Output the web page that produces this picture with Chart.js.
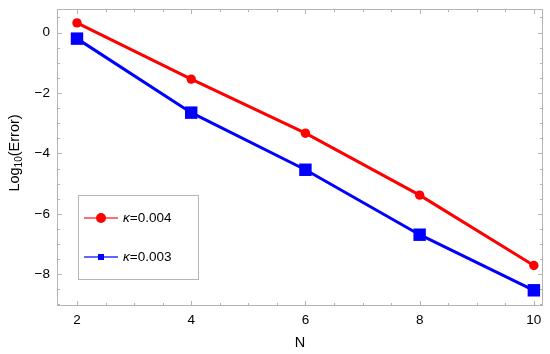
<!DOCTYPE html>
<html>
<head>
<meta charset="utf-8">
<script src="https://cdn.jsdelivr.net/npm/chart.js@4"></script>
<style>
    html, body { margin: 0; background: #fff; }
    #wrap { width: 550px; height: 354px; }
</style>
</head>
<body>
<div id="wrap"><canvas id="myChart"></canvas></div>
<script>
// dados
const nValues = [2, 4, 6, 8, 10];
const errK004 = [0.32, -1.54, -3.33, -5.38, -7.71];
const errK003 = [-0.2, -2.65, -4.54, -6.69, -8.53];
const xTicks = [2, 4, 6, 8, 10];
const yTicks = [0, -2, -4, -6, -8];
const kappaValues = ["0.004", "0.003"];

const FONT = "'Liberation Sans', Arial, sans-serif";
const frameColor = "#b4b4b4";

function pontos(ys) {
    return nValues.map((n, i) => ({ x: n, y: ys[i] }));
}

// moldura com marcas para dentro nos quatro lados (estilo Mathematica)
const framePlugin = {
    id: "frame",
    beforeDatasetsDraw(chart) {
        const { ctx, chartArea: a, scales } = chart;
        const xs = scales.x, ys = scales.y;
        ctx.save();
        ctx.strokeStyle = frameColor;
        ctx.lineWidth = 1;
        ctx.strokeRect(a.left + 0.5, a.top + 0.5, a.right - a.left - 1, a.bottom - a.top - 1);
        ctx.beginPath();
        for (let v = 1.5; v <= 10.2; v += 0.5) {
            if (v < xs.min || v > xs.max) continue;
            const px = Math.round(xs.getPixelForValue(v)) + 0.5;
            const len = Number.isInteger(v / 2) ? 5 : 3;
            ctx.moveTo(px, a.bottom); ctx.lineTo(px, a.bottom - len);
            ctx.moveTo(px, a.top); ctx.lineTo(px, a.top + len);
        }
        for (let v = -9; v <= 0.8; v += 0.5) {
            if (v < ys.min || v > ys.max) continue;
            const py = Math.round(ys.getPixelForValue(v)) + 0.5;
            const len = Number.isInteger(v / 2) ? 5 : 3;
            ctx.moveTo(a.left, py); ctx.lineTo(a.left + len, py);
            ctx.moveTo(a.right, py); ctx.lineTo(a.right - len, py);
        }
        ctx.stroke();
        ctx.restore();
    },
    afterDraw(chart) {
        const { ctx, chartArea: a } = chart;
        ctx.save();
        ctx.fillStyle = "#000";
        // título do eixo Y com subscrito
        ctx.translate(15, 153);
        ctx.rotate(-Math.PI / 2);
        ctx.textBaseline = "middle";
        ctx.textAlign = "left";
        const big = "14.5px " + FONT, small = "10px " + FONT;
        ctx.font = big; const w1 = ctx.measureText("Log").width;
        ctx.font = small; const w2 = ctx.measureText("10").width;
        ctx.font = big; const w3 = ctx.measureText("(Error)").width;
        let x0 = -(w1 + w2 + w3) / 2;
        ctx.fillText("Log", x0, 0);
        ctx.font = small; ctx.fillText("10", x0 + w1, 4);
        ctx.font = big; ctx.fillText("(Error)", x0 + w1 + w2, 0);
        ctx.restore();

        // título do eixo X
        ctx.save();
        ctx.font = "14.5px " + FONT;
        ctx.fillStyle = "#000";
        ctx.textAlign = "center";
        ctx.textBaseline = "middle";
        ctx.fillText("N", (a.left + a.right) / 2, 343);
        ctx.restore();

        // legenda
        ctx.save();
        const lx = 78, ly = 195, lw = 120, lh = 84;
        ctx.fillStyle = "#fff";
        ctx.fillRect(lx, ly, lw, lh);
        ctx.strokeStyle = frameColor;
        ctx.lineWidth = 1;
        ctx.strokeRect(lx + 0.5, ly + 0.5, lw, lh);
        const itens = [
            { cor: "#ff0000", linha: "rgba(255,60,60,0.75)", y: ly + 23, tipo: "circle" },
            { cor: "#0000ff", linha: "rgba(60,60,255,0.8)", y: ly + 62, tipo: "rect" },
        ];
        itens.forEach((it, i) => {
            ctx.strokeStyle = it.linha;
            ctx.lineWidth = 2;
            ctx.beginPath();
            ctx.moveTo(lx + 6, it.y); ctx.lineTo(lx + 40, it.y);
            ctx.stroke();
            ctx.fillStyle = it.cor;
            if (it.tipo === "circle") {
                ctx.beginPath(); ctx.arc(lx + 23, it.y, 5, 0, Math.PI * 2); ctx.fill();
            } else {
                ctx.fillRect(lx + 20, it.y - 3, 6, 6);
            }
            ctx.fillStyle = "#000";
            ctx.textBaseline = "middle";
            ctx.textAlign = "left";
            ctx.font = "italic 13.5px " + FONT;
            ctx.fillText("κ", lx + 45, it.y);
            const kw = ctx.measureText("κ").width;
            ctx.font = "13.5px " + FONT;
            ctx.fillText("=" + kappaValues[i], lx + 45 + kw, it.y);
        });
        ctx.restore();
    },
};

const ctx = document.querySelector("#myChart");
new Chart(ctx, {
    type: "scatter",
    data: {
        datasets: [
            {
                label: "κ=" + kappaValues[0],
                data: pontos(errK004),
                showLine: true,
                borderColor: "#ff0000",
                backgroundColor: "#ff0000",
                borderWidth: 3,
                pointStyle: "circle",
                pointRadius: 4.7,
                pointHoverRadius: 4.7,
                pointBorderWidth: 0,
            },
            {
                label: "κ=" + kappaValues[1],
                data: pontos(errK003),
                showLine: true,
                borderColor: "#0000ff",
                backgroundColor: "#0000ff",
                borderWidth: 3,
                pointStyle: "rect",
                pointRadius: 8.8,
                pointHoverRadius: 8.8,
                pointBorderWidth: 0,
            },
        ],
    },
    options: {
        responsive: true,
        maintainAspectRatio: false,
        animation: false,
        clip: false,
        layout: { autoPadding: false, padding: { left: 0, top: 5, right: 7, bottom: 0 } },
        scales: {
            x: {
                type: "linear",
                min: 1.65,
                max: 10.16,
                afterBuildTicks: (s) => { s.ticks = xTicks.map((v) => ({ value: v })); },
                afterFit: (s) => { s.height = 48; },
                grid: { display: false, drawTicks: false },
                border: { display: false },
                ticks: { color: "#000", padding: 6, font: { family: FONT, size: 13.5 } },
            },
            y: {
                type: "linear",
                min: -9.05,
                max: 0.78,
                afterBuildTicks: (s) => { s.ticks = yTicks.map((v) => ({ value: v })); },
                afterFit: (s) => { s.width = 57; },
                grid: { display: false, drawTicks: false },
                border: { display: false },
                ticks: {
                    color: "#000",
                    padding: 7,
                    font: { family: FONT, size: 13.5, lineHeight: 0.3 },
                    callback: (v) => (v < 0 ? "\u2212" + Math.abs(v) : String(v)),
                },
            },
        },
        plugins: {
            legend: { display: false },
            tooltip: { enabled: false },
        },
    },
    plugins: [framePlugin],
});
</script>
</body>
</html>
